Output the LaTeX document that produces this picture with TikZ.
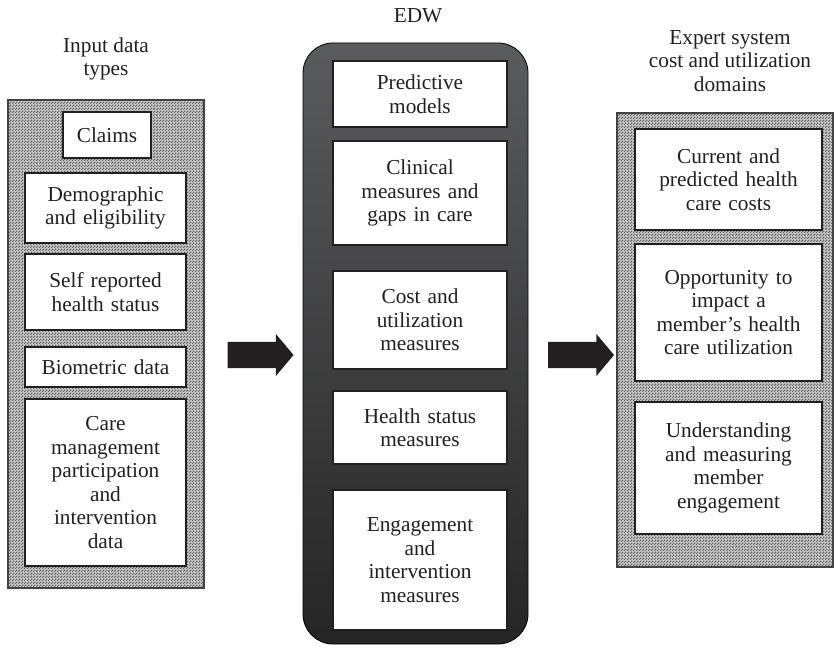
\documentclass[tikz,border=0pt]{standalone}
\usepackage{fontspec}
\setmainfont{Liberation Serif}
\usepackage{tikz}
\usetikzlibrary{patterns,shapes.arrows}
\definecolor{ink}{HTML}{231F20}
\definecolor{edwtop}{HTML}{5A5B5D}
\definecolor{edwbot}{HTML}{252525}
\definecolor{dotA}{HTML}{CFCFCF}
\definecolor{dotB}{HTML}{5A5A5A}
\pgfdeclarepatternformonly{checker}{\pgfqpoint{0pt}{0pt}}{\pgfqpoint{3pt}{3pt}}{\pgfqpoint{3pt}{3pt}}{%
  \pgfpathrectangle{\pgfqpoint{0pt}{0pt}}{\pgfqpoint{1.5pt}{1.5pt}}%
  \pgfpathrectangle{\pgfqpoint{1.5pt}{1.5pt}}{\pgfqpoint{1.5pt}{1.5pt}}%
  \pgfusepath{fill}}
\tikzset{
  txt/.style={font=\fontsize{21.3}{23.5}\selectfont,align=center,text=ink},
  box/.style={txt,draw=ink,line width=1.3pt,fill=white,inner sep=0pt},
  lbox/.style={box,minimum width=161pt,text width=150pt},
  mbox/.style={box,minimum width=174pt,text width=164pt},
  rbox/.style={box,minimum width=187pt,text width=178pt},
  panel/.style={draw=ink!85,line width=1.1pt,preaction={fill=dotA},pattern=checker,pattern color=dotB,inner sep=0pt},
  edw/.style={draw=black,line width=0.8pt,rounded corners=30pt,top color=edwtop,bottom color=edwbot},
  bigarr/.style={single arrow,fill=ink,draw=none,inner xsep=0pt,inner ysep=13pt,minimum height=66pt,
    single arrow head extend=8pt,single arrow tip angle=100},
}

\begin{document}
\begin{tikzpicture}[x=1pt,y=-1pt]
\useasboundingbox (0,0) rectangle (834,647);

% input data
\node[txt] (tin) at (106,59) {Input data\\types};
\node[panel,minimum width=196pt,minimum height=488pt] (inp) at (106,344) {};
\node[box,minimum width=88pt,minimum height=46pt] (claims) at (107,135) {Claims};
\node[lbox,minimum height=70pt] (demo) at (105.5,208) {Demographic\\and eligibility};
\node[lbox,minimum height=76pt] (self) at (105.5,292) {Self reported\\health status};
\node[lbox,minimum height=40pt] (bio) at (105.5,367) {Biometric data};
\node[lbox,minimum height=167pt] (care) at (105.5,482.5) {Care\\management\\participation\\and\\intervention\\data};

% EDW
\node[txt] (tedw) at (418,16) {EDW};
\draw[edw] (303,43) rectangle (528,644);
\node[mbox,minimum height=66pt] (pred) at (420,94) {Predictive\\models};
\node[mbox,minimum height=104pt] (clin) at (420,193) {Clinical\\measures and\\gaps in care};
\node[mbox,minimum height=98pt] (cost) at (420,320) {Cost and\\utilization\\measures};
\node[mbox,minimum height=73pt] (hstat) at (420,427.5) {Health status\\measures};
\node[mbox,minimum height=140pt] (eng) at (420,560) {Engagement\\and\\intervention\\measures};

% expert system
\node[txt] (tout) at (730,61) {Expert system\\cost and utilization\\domains};
\node[panel,minimum width=216pt,minimum height=454pt] (outp) at (725,340) {};
\node[rbox,minimum height=101pt] (curr) at (728.5,179.5) {Current and\\predicted health\\care costs};
\node[rbox,minimum height=137pt] (opp) at (728.5,312.5) {Opportunity to\\impact a\\member’s health\\care utilization};
\node[rbox,minimum height=132pt] (und) at (728.5,468) {Understanding\\and measuring\\member\\engagement};

\node[bigarr] (a1) at (255,355) {};
\node[bigarr] (a2) at (575.5,355) {};
\end{tikzpicture}
\end{document}
